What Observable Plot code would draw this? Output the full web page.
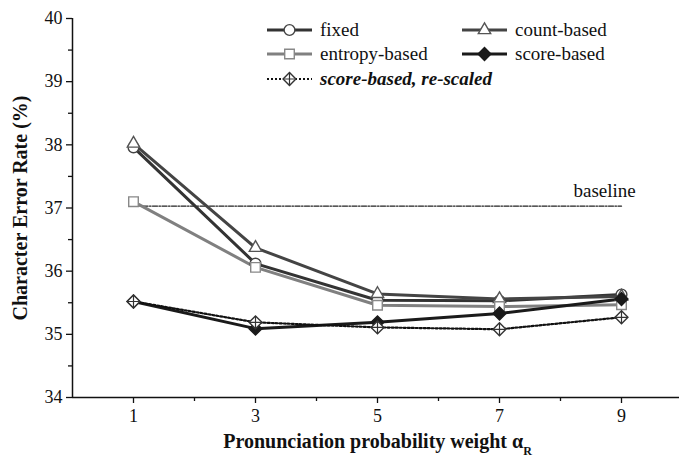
<!DOCTYPE html>
<html>
<head>
<meta charset="utf-8">
<script src="https://cdn.jsdelivr.net/npm/d3@7"></script>
<script src="https://cdn.jsdelivr.net/npm/@observablehq/plot@0.6"></script>
<style>
  html, body { margin: 0; padding: 0; background: #fff; }
  #wrap { position: relative; width: 679px; height: 464px; font-family: "Liberation Serif", serif; }
  #wrap svg { display: block; }
  #wrap svg text { font-family: "Liberation Serif", serif; }
  #legend { position: absolute; left: 0; top: 0; pointer-events: none; }
</style>
</head>
<body>
<div id="wrap"></div>
<script>
// ---- data ----
const weights = [1, 3, 5, 7, 9];
const fixed = [37.96, 36.12, 35.54, 35.53, 35.63];
const countBased = [38.02, 36.37, 35.64, 35.56, 35.60];
const entropyBased = [37.10, 36.06, 35.46, 35.44, 35.47];
const scoreBased = [35.52, 35.09, 35.19, 35.33, 35.56];
const scoreRescaled = [35.52, 35.19, 35.11, 35.08, 35.27];
const baselineValue = 37.03;
const yTicks = [34, 35, 36, 37, 38, 39, 40];
const yMinor = [34.5, 35.5, 36.5, 37.5, 38.5, 39.5];
const xTicks = [1, 3, 5, 7, 9];
const xMinor = [2, 4, 6, 8, 10];
const seriesNames = ["fixed", "count-based", "entropy-based", "score-based", "score-based, re-scaled"];

// ---- styles per series ----
const styles = {
  "fixed":                  {line: "#333", width: 3, dash: null, symbol: "circle", r: 5.4, fill: "#fff", mstroke: "#444"},
  "count-based":            {line: "#444", width: 3, dash: null, symbol: "triangle", r: 4.6, fill: "#fff", mstroke: "#555"},
  "entropy-based":          {line: "#808080", width: 3, dash: null, symbol: "square", r: 5.4, fill: "#fff", mstroke: "#888"},
  "score-based":            {line: "#1a1a1a", width: 3, dash: null, symbol: "diamond2", r: 5.8, fill: "#1a1a1a", mstroke: "#1a1a1a"},
  "score-based, re-scaled": {line: "#111", width: 2.2, dash: "2,2", symbol: "diamond2", r: 5.8, fill: "#fff", mstroke: "#333"}
};
const valuesBySeries = {
  "fixed": fixed,
  "count-based": countBased,
  "entropy-based": entropyBased,
  "score-based": scoreBased,
  "score-based, re-scaled": scoreRescaled
};

const rows = seriesNames.map(name => weights.map((w, i) => ({series: name, x: w, y: valuesBySeries[name][i]})));
const FONT = '"Liberation Serif", serif';

const marks = [
  Plot.ruleY([34], {stroke: "#111", strokeWidth: 1.5}),
  Plot.ruleX([0], {stroke: "#111", strokeWidth: 1.5}),
  Plot.axisY({ticks: yTicks, tickSize: 6, tickPadding: 4, fontSize: 18, tickFormat: d => d, label: "Character Error Rate (%)", labelAnchor: "center", labelArrow: "none", labelOffset: 60, strokeWidth: 1.3}),
  Plot.axisY({ticks: yMinor, tickSize: 4, tickFormat: () => "", label: null, strokeWidth: 1.3}),
  Plot.axisX({ticks: xTicks, tickSize: 6, tickPadding: 6, fontSize: 18, tickFormat: d => d, label: "Pronunciation probability weight α", labelAnchor: "center", labelArrow: "none", labelOffset: 50, strokeWidth: 1.3}),
  Plot.axisX({ticks: xMinor, tickSize: 4, tickFormat: () => "", label: null, strokeWidth: 1.3}),
  // baseline
  Plot.line([{x: weights[0], y: baselineValue}, {x: weights[weights.length - 1], y: baselineValue}], {x: "x", y: "y", stroke: "#222", strokeWidth: 1.4, strokeDasharray: "5,1.5,1.5,1.5"}),
  Plot.text([{x: weights[weights.length - 1], y: baselineValue, t: "baseline"}], {x: "x", y: "y", text: "t", textAnchor: "start", dx: -48, dy: -15, fontSize: 19, fill: "#111"})
];
// lines
seriesNames.forEach((name, k) => {
  const s = styles[name];
  marks.push(Plot.line(rows[k], {x: "x", y: "y", stroke: s.line, strokeWidth: s.width, strokeDasharray: s.dash}));
});
// markers
seriesNames.forEach((name, k) => {
  const s = styles[name];
  marks.push(Plot.dot(rows[k], {x: "x", y: "y", symbol: s.symbol, r: s.r, fill: s.fill, stroke: s.mstroke, strokeWidth: 1.4}));
  if (name === "score-based, re-scaled") {
    marks.push(Plot.dot(rows[k], {x: "x", y: "y", symbol: "plus", r: 4.2, fill: "none", stroke: "#333", strokeWidth: 1.2}));
  }
});

const chart = Plot.plot({
  width: 679,
  height: 464,
  marginLeft: 72,
  marginRight: -3,
  marginTop: 18,
  marginBottom: 67,
  x: {domain: [0, 10]},
  y: {domain: [34, 40]},
  style: {fontFamily: FONT, fontSize: "18px", color: "#111", background: "#fff"},
  marks
});
document.getElementById("wrap").appendChild(chart);

// bold axis titles + subscript
d3.select(chart).selectAll('g[aria-label="y-axis label"] text, g[aria-label="x-axis label"] text')
  .style("font-weight", "bold").style("font-size", "20px");
const xl = d3.select(chart).select('g[aria-label="x-axis label"] text');
if (!xl.empty()) {
  xl.append("tspan").attr("baseline-shift", "sub").style("font-size", "12px").text("R");
}

// ---- legend overlay ----
const legendPos = [
  {name: "fixed", x: 267, y: 30},
  {name: "count-based", x: 462, y: 30},
  {name: "entropy-based", x: 267, y: 54},
  {name: "score-based", x: 462, y: 54},
  {name: "score-based, re-scaled", x: 267, y: 79}
];
const symMap = {circle: d3.symbolCircle, triangle: d3.symbolTriangle, square: d3.symbolSquare, diamond2: d3.symbolDiamond2, plus: d3.symbolPlus};
const lg = d3.select("#wrap").append("svg").attr("id", "legend").attr("width", 679).attr("height", 464);
legendPos.forEach(p => {
  const s = styles[p.name];
  const g = lg.append("g").attr("transform", `translate(${p.x},${p.y})`);
  g.append("line").attr("x1", 0).attr("x2", 45).attr("y1", 0).attr("y2", 0)
    .attr("stroke", s.line).attr("stroke-width", s.width).attr("stroke-dasharray", s.dash);
  g.append("path").attr("transform", "translate(22.5,0)")
    .attr("d", d3.symbol(symMap[s.symbol], s.r * s.r * Math.PI)())
    .attr("fill", s.fill).attr("stroke", s.mstroke).attr("stroke-width", 1.4);
  if (p.name === "score-based, re-scaled") {
    g.append("path").attr("transform", "translate(22.5,0)")
      .attr("d", d3.symbol(d3.symbolPlus, 4.2 * 4.2 * Math.PI)())
      .attr("fill", "none").attr("stroke", "#333").attr("stroke-width", 1.2);
  }
  const t = g.append("text").attr("x", 53).attr("y", 0).attr("dy", "0.32em")
    .attr("font-size", 19).attr("fill", "#111").text(p.name);
  if (p.name === "score-based, re-scaled") t.attr("font-weight", "bold").attr("font-style", "italic");
});
</script>
</body>
</html>
